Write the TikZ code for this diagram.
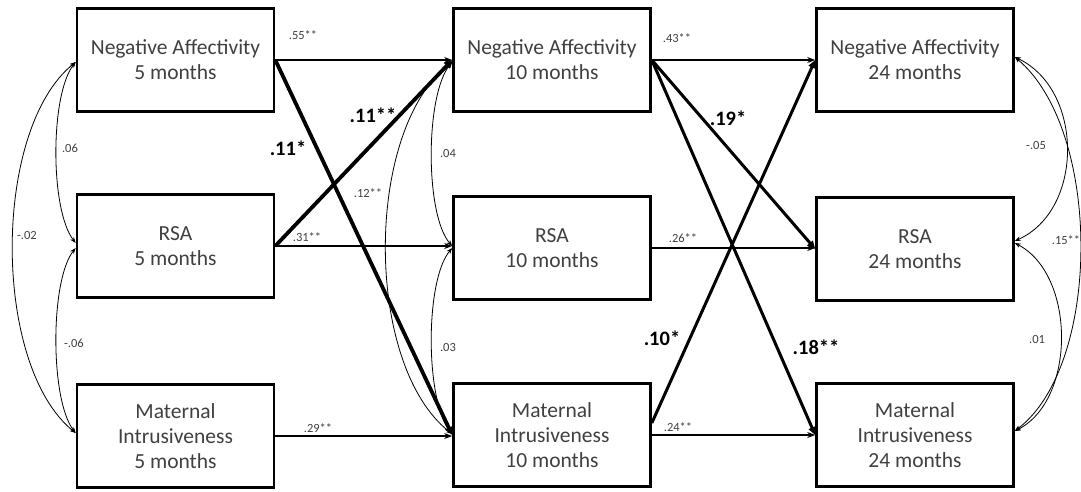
\documentclass[tikz,border=0pt]{standalone}
\usepackage{fontspec}
\setmainfont{Carlito}
\usetikzlibrary{arrows.meta,calc}
\definecolor{txt}{HTML}{404040}
\tikzset{
  box/.style={draw=black,line width=2.6pt,minimum width=197pt,minimum height=103pt,inner sep=0pt,align=center,
    font=\fontsize{21.5}{25}\selectfont,text=txt},
  path1/.style={draw,line width=2pt,-{Stealth[length=8pt,width=6pt]}},
  pathb/.style={draw,line width=3.8pt,-{Triangle[length=8pt,width=8pt]}},
  pathm/.style={draw,line width=3pt,-{Triangle[length=8pt,width=7pt]}},
  cov/.style={draw,line width=0.8pt,{Stealth[length=6pt,width=4.5pt]}-{Stealth[length=6pt,width=4.5pt]}},
  small/.style={font=\fontsize{12.5}{14}\selectfont,text=txt,inner sep=0pt},
  big/.style={font=\fontsize{20.5}{24}\selectfont\bfseries,text=black,inner sep=0pt}
}
\begin{document}
\begin{tikzpicture}[x=1pt,y=-1pt]
\useasboundingbox (0,0) rectangle (1081,491);
\fill[white] (0,0) rectangle (1081,491);
% boxes
\node[box] (na5)  at (175.5,60)  {Negative Affectivity\\5 months};
\node[box] (rsa5) at (175.5,246) {RSA\\5 months};
\node[box] (mi5)  at (175.5,436) {Maternal\\Intrusiveness\\5 months};
\node[box] (na10)  at (552,60)  {Negative Affectivity\\10 months};
\node[box] (rsa10) at (552,248) {RSA\\10 months};
\node[box] (mi10)  at (552,435) {Maternal\\Intrusiveness\\10 months};
\node[box] (na24)  at (915,60)  {Negative Affectivity\\24 months};
\node[box] (rsa24) at (915,249) {RSA\\24 months};
\node[box] (mi24)  at (915,435) {Maternal\\Intrusiveness\\24 months};
% horizontal paths
\draw[path1] (na5.east) -- (na10.west);
\draw[path1] (rsa5.east) -- (rsa5.east -| rsa10.west);
\draw[path1] (mi5.east) -- (mi5.east -| mi10.west);
\draw[path1] (na10.east) -- (na24.west);
\draw[path1] (rsa10.east) -- (rsa10.east -| rsa24.west);
\draw[path1] (mi10.east) -- (mi10.east -| mi24.west);
% cross paths
\draw[pathb] (na5.east) -- (mi10.west);
\draw[pathb] (rsa5.east) -- (na10.west);
\draw[pathm] (na10.east) -- (rsa24.west);
\draw[pathm] (na10.east) -- (mi24.west);
\coordinate (mi10s) at ($(mi10.east)+(0,-12)$);
\draw[pathm] (mi10s) -- (na24.west);
% covariances left
\coordinate (l1) at ($(na5.west)+(0,2)$);
\coordinate (l2a) at ($(rsa5.west)+(0,-3)$);
\coordinate (l2b) at ($(rsa5.west)+(0,2)$);
\coordinate (l3) at ($(mi5.west)+(0,-3)$);
\draw[cov] (l1) .. controls (50,95) and (50,210) .. (l2a);
\draw[cov] (l2b) .. controls (50,280) and (50,400) .. (l3);
\draw[cov] (l1) .. controls (-8,130) and (-8,365) .. (l3);
% covariances middle
\coordinate (m1) at ($(na10.west)+(0,2)$);
\coordinate (m2a) at ($(rsa10.west)+(0,-2)$);
\coordinate (m2b) at ($(rsa10.west)+(0,0)$);
\coordinate (m3) at ($(mi10.west)+(0,-1)$);
\draw[cov] (m1) .. controls (425,95) and (425,215) .. (m2a);
\draw[cov] (m2b) .. controls (425,280) and (425,400) .. (m3);
\draw[cov] (m1) .. controls (364,130) and (364,365) .. (m3);
% covariances right
\coordinate (r1) at ($(na24.east)+(0,-3)$);
\coordinate (r2) at ($(rsa24.east)+(0,-8)$);
\coordinate (r2b) at ($(rsa24.east)+(0,-6)$);
\coordinate (r3) at ($(mi24.east)+(0,-4)$);
\draw[cov] (r1) .. controls (1084,90) and (1084,210) .. (r2);
\draw[cov] (r2b) .. controls (1076,275) and (1076,400) .. (r3);
\draw[cov] (r1) .. controls (1102,130) and (1102,365) .. (r3);
% labels
\node[small] (l55) at (303,35) {.55**};
\node[small] (l31) at (307,237) {.31**};
\node[small] (l29) at (318,428) {.29**};
\node[small] (l12) at (368,193) {.12**};
\node[small] (l04) at (448,153) {.04};
\node[small] (l03) at (448,347) {.03};
\node[small] (l43) at (677,38) {.43**};
\node[small] (l26) at (683,238) {.26**};
\node[small] (l24) at (678,427) {.24**};
\node[small] (l06) at (70,148) {.06};
\node[small] (l02) at (27,235) {-.02};
\node[small] (l06b) at (74,343) {-.06};
\node[small] (l05) at (1036,145) {-.05};
\node[small] (l15) at (1066,240) {.15**};
\node[small] (l01) at (1037,339) {.01};
\node[big] (b11a) at (373,115) {.11**};
\node[big] (b11b) at (288,148) {.11*};
\node[big] (b19) at (728,118) {.19*};
\node[big] (b10) at (662,338) {.10*};
\node[big] (b18) at (816,347) {.18**};
\end{tikzpicture}
\end{document}
